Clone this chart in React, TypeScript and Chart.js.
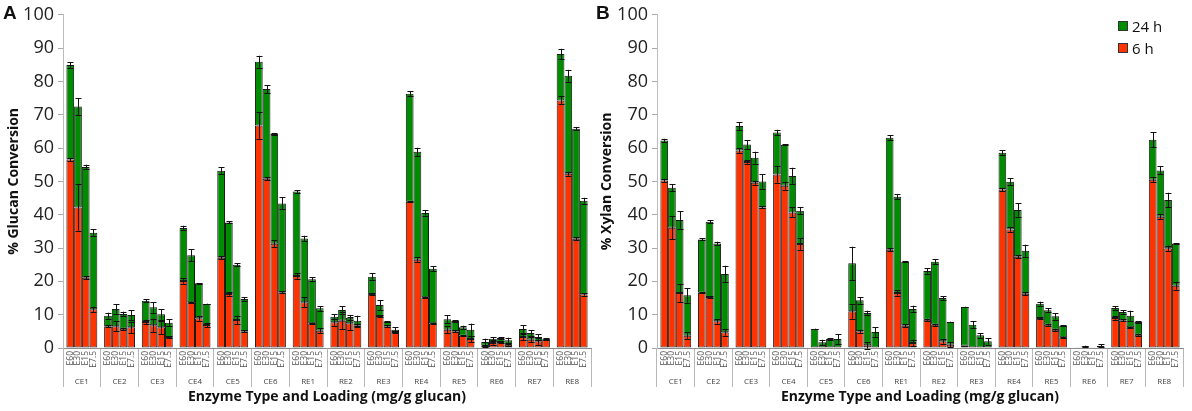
import React, { useEffect, useRef } from 'react';
import { Chart, registerables } from 'chart.js';

Chart.register(...registerables);

const GROUPS = ['CE1', 'CE2', 'CE3', 'CE4', 'CE5', 'CE6', 'RE1', 'RE2', 'RE3', 'RE4', 'RE5', 'RE6', 'RE7', 'RE8'];
const LOADINGS = ['E60', 'E30', 'E15', 'E7.5'];
const TIME_LABELS = ['24 h', '6 h'];
const Y_MIN = 0;
const Y_MAX = 100;
const Y_STEP = 10;

// Panel A: % Glucan conversion, rows = GROUPS, columns = LOADINGS
const GLUCAN_24H = [
  [84.9, 72.5, 54.3, 34.6],
  [9.7, 11.7, 10.2, 9.9],
  [14.2, 12.2, 10.1, 7.6],
  [36.0, 27.8, 19.4, 13.2],
  [53.2, 37.7, 25.0, 14.7],
  [85.9, 77.7, 64.2, 43.4],
  [47.0, 32.9, 20.6, 11.9],
  [9.4, 11.4, 9.1, 8.2],
  [21.4, 12.9, 7.9, 5.5],
  [76.3, 58.9, 40.5, 23.8],
  [8.6, 8.1, 6.2, 5.5],
  [1.8, 2.8, 3.0, 2.3],
  [5.7, 4.5, 3.3, 2.8],
  [88.2, 81.7, 65.8, 44.2],
];
const GLUCAN_6H = [
  [56.6, 42.2, 21.1, 11.6],
  [6.5, 6.5, 5.8, 6.2],
  [7.8, 6.8, 6.2, 3.3],
  [20.1, 13.7, 8.9, 6.9],
  [27.1, 16.2, 8.4, 5.0],
  [66.8, 50.8, 31.3, 16.7],
  [21.6, 13.7, 7.4, 5.2],
  [7.7, 8.2, 7.4, 6.8],
  [16.2, 9.6, 6.5, 4.8],
  [43.9, 26.5, 15.2, 7.4],
  [5.5, 5.0, 3.7, 2.7],
  [0.7, 1.5, 1.8, 1.0],
  [3.3, 2.5, 2.0, 2.5],
  [74.3, 52.3, 32.8, 16.1],
];
const GLUCAN_24H_ERR = [
  [0.9, 2.5, 0.7, 1.0],
  [0.9, 1.4, 0.7, 1.5],
  [0.4, 1.6, 1.6, 1.0],
  [0.7, 1.8, 0.1, 0.1],
  [1.0, 0.3, 0.5, 0.5],
  [1.8, 1.2, 0.2, 1.8],
  [0.4, 0.8, 0.6, 0.7],
  [0.8, 1.2, 0.8, 1.5],
  [1.0, 1.5, 0.2, 0.8],
  [0.8, 1.2, 0.8, 0.8],
  [1.2, 0.3, 0.5, 1.8],
  [1.0, 0.5, 0.2, 0.8],
  [1.2, 0.8, 0.8, 0.2],
  [1.6, 1.8, 0.4, 0.9],
];
const GLUCAN_6H_ERR = [
  [0.5, 7.0, 0.5, 0.8],
  [0.3, 1.5, 0.3, 1.7],
  [0.7, 2.0, 2.0, 0.3],
  [0.8, 0.2, 0.7, 0.7],
  [0.5, 0.5, 1.3, 0.3],
  [4.0, 0.5, 1.0, 0.3],
  [0.8, 1.5, 0.2, 0.8],
  [1.0, 2.5, 2.0, 0.5],
  [0.2, 0.2, 0.3, 0.3],
  [0.2, 0.7, 0.2, 0.2],
  [1.0, 0.3, 0.2, 1.0],
  [0.3, 0.5, 0.3, 0.3],
  [1.0, 0.8, 1.0, 0.2],
  [1.2, 0.6, 0.4, 0.4],
];

// Panel B: % Xylan conversion
const XYLAN_24H = [
  [62.3, 48.1, 38.4, 15.8],
  [32.6, 37.9, 31.4, 22.2],
  [66.6, 61.1, 57.1, 50.0],
  [64.7, 61.0, 51.6, 41.2],
  [5.7, 1.7, 2.7, 2.7],
  [25.4, 14.3, 10.5, 4.8],
  [63.1, 45.4, 25.9, 11.7],
  [23.1, 25.9, 15.0, 7.8],
  [12.3, 7.0, 3.8, 2.0],
  [58.6, 49.9, 41.4, 29.2],
  [13.3, 11.3, 9.5, 6.7],
  [0.1, 0.5, 0.1, 0.7],
  [12.0, 10.8, 9.7, 7.8],
  [62.5, 53.3, 44.4, 31.4],
];
const XYLAN_6H = [
  [50.3, 36.1, 16.5, 3.7],
  [16.6, 15.3, 8.0, 4.7],
  [59.3, 55.8, 49.6, 42.2],
  [52.1, 48.7, 40.7, 31.2],
  [0, 0, 0, 0],
  [11.0, 5.0, 0.8, 0],
  [29.5, 16.5, 6.7, 1.5],
  [8.5, 7.0, 2.0, 1.0],
  [0.7, 0, 0, 0],
  [47.6, 35.6, 27.4, 16.3],
  [9.0, 7.0, 5.5, 3.2],
  [0, 0, 0, 0],
  [9.0, 8.3, 6.2, 4.0],
  [50.5, 39.4, 29.9, 18.7],
];
const XYLAN_24H_ERR = [
  [0.5, 1.1, 2.6, 2.2],
  [0.3, 0.5, 0.5, 2.5],
  [1.2, 1.3, 1.8, 2.2],
  [0.8, 0.2, 2.5, 1.0],
  [0.1, 0.8, 0.2, 1.5],
  [5.0, 1.0, 0.7, 1.5],
  [0.8, 0.8, 0.2, 1.0],
  [0.8, 0.8, 0.6, 0.1],
  [0.1, 1.0, 0.7, 1.0],
  [0.8, 1.0, 2.0, 1.8],
  [0.6, 0.6, 1.0, 0.1],
  [0, 0.2, 0, 0.4],
  [0.6, 0.5, 1.5, 0.2],
  [2.2, 1.2, 2.2, 0.1],
];
const XYLAN_6H_ERR = [
  [0.5, 3.5, 2.8, 1.0],
  [0.2, 0.2, 0.7, 1.0],
  [0.7, 0.5, 0.6, 0.3],
  [2.5, 1.2, 1.5, 1.8],
  [0, 0, 0, 0],
  [2.2, 0.5, 1.0, 0],
  [0.5, 0.8, 0.5, 1.0],
  [0.3, 0.3, 0.7, 0.7],
  [0, 0, 0, 0],
  [0.5, 0.8, 0.5, 0.5],
  [0.2, 0.3, 0.3, 0.2],
  [0, 0, 0, 0],
  [0.5, 0.3, 0.2, 0.3],
  [0.8, 0.8, 0.8, 1.2],
];

const RED = '#FF3300';
const GREEN = '#008C00';
const FONT = '"Open Sans", "Noto Sans", sans-serif';

function buildDatasets(v24: number[][], v6: number[][], e24: number[][], e6: number[][]) {
  const ds: any[] = [];
  LOADINGS.forEach((lab, j) => {
    ds.push({
      label: `${TIME_LABELS[1]} ${lab}`,
      stack: 'L' + j,
      loading: lab,
      data: GROUPS.map((_, i) => v6[i][j]),
      errors: GROUPS.map((_, i) => e6[i][j]),
      backgroundColor: RED,
      borderColor: '#1a1a1a',
      borderWidth: 1,
      borderSkipped: false,
    });
    ds.push({
      label: `${TIME_LABELS[0]} ${lab}`,
      stack: 'L' + j,
      data: GROUPS.map((_, i) => Math.max(0, v24[i][j] - v6[i][j])),
      errors: GROUPS.map((_, i) => e24[i][j]),
      backgroundColor: GREEN,
      borderColor: '#1a1a1a',
      borderWidth: 1,
      borderSkipped: false,
    });
  });
  return ds;
}

const errorBarPlugin = {
  id: 'errorBars',
  afterDatasetsDraw(chart: any) {
    const { ctx } = chart;
    const y = chart.scales.y;
    const unit = y.getPixelForValue(0) - y.getPixelForValue(1);
    ctx.save();
    ctx.strokeStyle = '#111';
    ctx.lineWidth = 1;
    chart.data.datasets.forEach((ds: any, di: number) => {
      const meta = chart.getDatasetMeta(di);
      meta.data.forEach((bar: any, i: number) => {
        const e = ds.errors ? ds.errors[i] : 0;
        if (!e) return;
        const x = Math.round(bar.x) + 0.5;
        const top = bar.y;
        const d = e * unit;
        ctx.beginPath();
        ctx.moveTo(x, top - d);
        ctx.lineTo(x, top + d);
        ctx.moveTo(x - 3, Math.round(top - d) + 0.5);
        ctx.lineTo(x + 3, Math.round(top - d) + 0.5);
        ctx.moveTo(x - 3, Math.round(top + d) + 0.5);
        ctx.lineTo(x + 3, Math.round(top + d) + 0.5);
        ctx.stroke();
      });
    });
    ctx.restore();
  },
};

const subLabelPlugin = {
  id: 'subLabels',
  afterDraw(chart: any) {
    const { ctx } = chart;
    const base = chart.scales.x.top + 3;
    ctx.save();
    ctx.font = `8.5px ${FONT}`;
    ctx.fillStyle = '#555';
    ctx.textAlign = 'right';
    ctx.textBaseline = 'middle';
    chart.data.datasets.forEach((ds: any, di: number) => {
      if (!ds.loading) return;
      const meta = chart.getDatasetMeta(di);
      meta.data.forEach((bar: any) => {
        ctx.save();
        ctx.translate(bar.x, base);
        ctx.rotate(-Math.PI / 2);
        ctx.fillText(ds.loading, 0, 0);
        ctx.restore();
      });
    });
    ctx.restore();
  },
};

const panelLetterPlugin = {
  id: 'panelLetter',
  afterDraw(chart: any, _args: any, opts: any) {
    const { ctx } = chart;
    ctx.save();
    ctx.font = `bold 19px "Liberation Sans", Arial, sans-serif`;
    ctx.fillStyle = '#111';
    ctx.textAlign = 'left';
    ctx.textBaseline = 'alphabetic';
    ctx.fillText(opts.letter, opts.x, 19);
    if (opts.legend) {
      const items = [
        { text: TIME_LABELS[0], color: GREEN },
        { text: TIME_LABELS[1], color: RED },
      ];
      ctx.font = `15px ${FONT}`;
      items.forEach((it, k) => {
        const by = 21 + k * 22;
        ctx.fillStyle = it.color;
        ctx.fillRect(opts.lx, by, 10, 10);
        ctx.strokeStyle = '#333';
        ctx.lineWidth = 1;
        ctx.strokeRect(opts.lx + 0.5, by + 0.5, 9, 9);
        ctx.fillStyle = '#111';
        ctx.fillText(it.text, opts.lx + 14, by + 11);
      });
    }
    ctx.restore();
  },
};

function makeConfig(
  datasets: any[],
  yTitle: string,
  axisWidth: number,
  padRight: number,
  yTitlePad: number,
  letter: string,
  letterX: number,
  legend: boolean,
  legendX: number
): any {
  return {
    type: 'bar',
    data: { labels: GROUPS, datasets },
    plugins: [errorBarPlugin, subLabelPlugin, panelLetterPlugin],
    options: {
      responsive: false,
      animation: false,
      layout: { padding: { top: 13, right: padRight, bottom: 0, left: 0 } },
      datasets: { bar: { categoryPercentage: 0.82, barPercentage: 1.0 } },
      plugins: {
        legend: { display: false },
        tooltip: { enabled: false },
        panelLetter: { letter, x: letterX, legend, lx: legendX },
      },
      scales: {
        x: {
          stacked: true,
          offset: true,
          grid: {
            offset: true,
            drawOnChartArea: false,
            drawTicks: true,
            tickLength: 39,
            color: '#b8b8b8',
            tickColor: '#b8b8b8',
          },
          border: { color: '#8c8c8c', width: 1 },
          ticks: {
            padding: -10,
            autoSkip: false,
            maxRotation: 0,
            font: { family: FONT, size: 8 },
            color: '#444',
          },
          title: {
            display: true,
            text: 'Enzyme Type and Loading (mg/g glucan)',
            font: { family: FONT, size: 14, weight: 'bold' },
            color: '#111',
            padding: { top: 0, bottom: 6 },
          },
          afterFit: (s: any) => {
            s.height = 63;
          },
        },
        y: {
          stacked: true,
          min: Y_MIN,
          max: Y_MAX,
          ticks: {
            stepSize: Y_STEP,
            padding: 4,
            font: { family: FONT, size: 18 },
            color: '#222',
          },
          grid: {
            drawOnChartArea: false,
            drawTicks: true,
            tickLength: 5,
            tickColor: '#aaaaaa',
          },
          border: { color: '#bdbdbd', width: 1 },
          title: {
            display: true,
            text: yTitle,
            font: { family: FONT, size: 14, weight: 'bold' },
            color: '#111',
            padding: { top: yTitlePad, bottom: 0 },
          },
          afterFit: (s: any) => {
            s.width = axisWidth;
          },
        },
      },
    },
  };
}

export default function App() {
  const refA = useRef<HTMLCanvasElement | null>(null);
  const refB = useRef<HTMLCanvasElement | null>(null);

  useEffect(() => {
    if (!refA.current || !refB.current) return;
    const chartA = new Chart(
      refA.current,
      makeConfig(
        buildDatasets(GLUCAN_24H, GLUCAN_6H, GLUCAN_24H_ERR, GLUCAN_6H_ERR),
        '% Glucan Conversion',
        63,
        1,
        6,
        'A',
        3,
        false,
        0
      )
    );
    const chartB = new Chart(
      refB.current,
      makeConfig(
        buildDatasets(XYLAN_24H, XYLAN_6H, XYLAN_24H_ERR, XYLAN_6H_ERR),
        '% Xylan Conversion',
        65,
        9,
        7,
        'B',
        4,
        true,
        526
      )
    );
    return () => {
      chartA.destroy();
      chartB.destroy();
    };
  }, []);

  return (
    <div style={{ position: 'absolute', left: 0, top: 0, width: 1192, height: 411, background: '#fff' }}>
      <canvas ref={refA} width={592} height={411} style={{ position: 'absolute', left: 0, top: 0, width: 592, height: 411 }} />
      <canvas ref={refB} width={600} height={411} style={{ position: 'absolute', left: 592, top: 0, width: 600, height: 411 }} />
    </div>
  );
}
